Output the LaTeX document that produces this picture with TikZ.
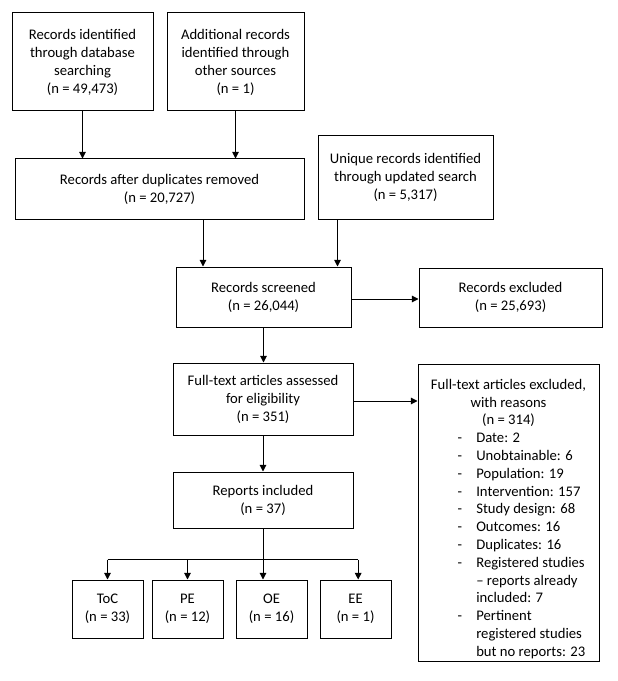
\documentclass[tikz,border=0pt]{standalone}
\usepackage{fontspec}
\setmainfont{Carlito}
\usepackage{tikz}
\usetikzlibrary{arrows.meta,calc}
\tikzset{
>={Triangle[length=5pt,width=5pt]}, % small filled arrow heads
box/.style={draw, line width=0.75pt, inner sep=0pt, align=center, font=\fontsize{11}{13.5}\selectfont}, % every box of the flow chart
arr/.style={->, line width=0.75pt}, % connectors
node distance=60pt, % for the row of boxes at the bottom
}

\begin{document}
\begin{tikzpicture}[x=0.75pt, y=-0.75pt]
		\useasboundingbox (0,0) rectangle (617,681);
		% identification
		\node[box, minimum width=105.75pt, minimum height=73.5pt] (A) at (82.5,62) {Records identified\\through database\\searching\\(n = 49,473)};
		\node[box, minimum width=102.75pt, minimum height=73.5pt] (B) at (235.5,62) {Additional records\\identified through\\other sources\\(n = 1)};
		\node[box, minimum width=216.75pt, minimum height=45pt] (C) at (159.5,189) {Records after duplicates removed\\(n = 20,727)};
		\node[box, minimum width=131.25pt, minimum height=62.25pt] (D) at (405.5,177.5) {Unique records identified\\through updated search\\(n = 5,317)};
		% screening
		\node[box, minimum width=131.25pt, minimum height=45pt] (E) at (263.5,297) {Records screened\\(n = 26,044)};
		\node[box, minimum width=137.25pt, minimum height=44.25pt] (F) at (510.5,297.5) {Records excluded\\(n = 25,693)};
		% eligibility
		\node[box, minimum width=135pt, minimum height=54pt] (G) at (263,399) {Full-text articles assessed\\for eligibility\\(n = 351)};
		\node[box, minimum width=135.75pt, minimum height=222.75pt, font=\fontsize{11}{13.35}\selectfont] (H) at (508.5,512.5) {%
			\raisebox{-5pt}[\height][\depth]{%
			\begin{tabular}{@{\hspace{20pt}}p{14pt}@{}l@{}}
				\multicolumn{2}{@{}c@{}}{Full-text articles excluded,}\\
				\multicolumn{2}{@{}c@{}}{with reasons}\\
				\multicolumn{2}{@{}c@{}}{(n = 314)}\\
				- & Date: 2\\
				- & Unobtainable: 6\\
				- & Population: 19\\
				- & Intervention: 157\\
				- & Study design: 68\\
				- & Outcomes: 16\\
				- & Duplicates: 16\\
				- & Registered studies\\
				  & -- reports already\\
				  & included: 7\\
				- & Pertinent\\
				  & registered studies\\
				  & but no reports: 23
			\end{tabular}}};
		% included
		\node[box, minimum width=135pt, minimum height=42pt] (I) at (263,500) {Reports included\\(n = 37)};
		\node[box, minimum width=53.25pt, minimum height=43.5pt] (ToC) at (107.5,609) {ToC\\(n = 33)};
		\node[box, minimum width=53.25pt, minimum height=43.5pt, right of=ToC] (PE) {PE\\(n = 12)};
		\node[box, minimum width=53.25pt, minimum height=43.5pt, right of=PE, node distance=63pt] (OE) {OE\\(n = 16)};
		\node[box, minimum width=53.25pt, minimum height=43.5pt, right of=OE, node distance=63pt] (EE) {EE\\(n = 1)};

		\coordinate (c1) at ($(C.south west)!0.65!(C.south east)$);
		\coordinate (e1) at ([xshift=-10.5pt]E.north east);
		\coordinate (e2) at ([yshift=-1.5pt]E.east);
		\coordinate (g1) at ([yshift=-1.5pt]G.east);
		\coordinate (bus) at ([yshift=-23.25pt]I.south);
		\draw[arr] (A.south) -- (A.south |- C.north);
		\draw[arr] (B.south) -- (B.south |- C.north);
		\draw[arr] (c1) -- (c1 |- E.north);
		\draw[arr] (D.south -| e1) -- (e1);
		\draw[arr] (e2) -- (e2 -| F.west);
		\draw[arr] (E.south) -- (E.south |- G.north);
		\draw[arr] (g1) -- (g1 -| H.west);
		\draw[arr] (G.south) -- (I.north);
		\draw[line width=0.75pt] (I.south) -- (bus);
		\draw[line width=0.75pt] (bus -| ToC.north) -- ([xshift=2pt]bus -| EE.north);
		\foreach \n in {ToC,PE}
			\draw[arr] (bus -| \n.north) -- (\n.north);
		\draw[arr] ([xshift=2pt]bus -| EE.north) -- ([xshift=2pt]EE.north);
		\draw[arr] (bus) -- (bus |- OE.north);
	\end{tikzpicture}
\end{document}
